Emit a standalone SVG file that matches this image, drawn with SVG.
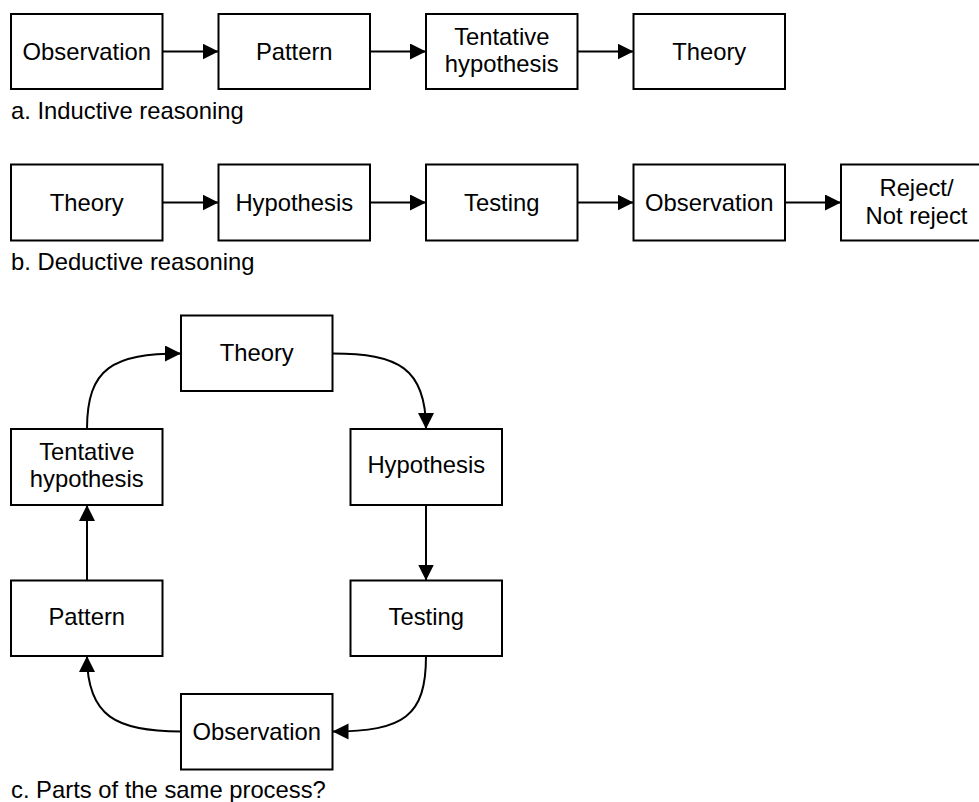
<svg xmlns="http://www.w3.org/2000/svg" width="979" height="802" viewBox="0 0 979 802">
<defs>
<marker id="ah" markerUnits="userSpaceOnUse" markerWidth="17" markerHeight="17" viewBox="0 0 17 17" refX="16" refY="8" orient="auto">
<path d="M0,0 L16,8 L0,16 Z" fill="#000"/>
</marker>
<style>
.box{fill:#fff;stroke:#000;stroke-width:2}
.t{font-family:"Liberation Sans",Arial,sans-serif;font-size:23.8px;fill:#000;text-anchor:middle}
.lbl{font-family:"Liberation Sans",Arial,sans-serif;font-size:23.8px;fill:#000}
.c{fill:none;stroke:#000;stroke-width:2;marker-end:url(#ah)}
</style>
</defs>
<rect width="979" height="802" fill="#fff"/>

<g id="connectors">
<path class="c" d="M162.5,51.5 H218.5"/>
<path class="c" d="M370,51.5 H426"/>
<path class="c" d="M577.5,51.5 H633.5"/>
<path class="c" d="M162.5,202.5 H218.5"/>
<path class="c" d="M370,202.5 H426"/>
<path class="c" d="M577.5,202.5 H633.5"/>
<path class="c" d="M785,202.5 H841"/>
<path class="c" d="M332.5,353.5 C398,353.5 426,368 426,429"/>
<path class="c" d="M426,505 V580.5"/>
<path class="c" d="M426,656 C426,716 404,731.5 332.5,731.5"/>
<path class="c" d="M181,731.5 C117,731.5 87,717 87,656"/>
<path class="c" d="M87,580.5 V505"/>
<path class="c" d="M87,429 C87,368 113,353.5 181,353.5"/>
</g>

<g id="a-observation"><rect class="box" x="11" y="14" width="151.5" height="75"/><text class="t" x="86.75" y="60">Observation</text></g>
<g id="a-pattern"><rect class="box" x="218.5" y="14" width="151.5" height="75"/><text class="t" x="294.25" y="60">Pattern</text></g>
<g id="a-tentative"><rect class="box" x="426" y="14" width="151.5" height="75"/><text class="t" x="501.75" y="45">Tentative</text><text class="t" x="501.75" y="72">hypothesis</text></g>
<g id="a-theory"><rect class="box" x="633.5" y="14" width="151.5" height="75"/><text class="t" x="709.25" y="60">Theory</text></g>
<text class="lbl" x="11" y="119">a. Inductive reasoning</text>

<g id="b-theory"><rect class="box" x="11" y="164.5" width="151.5" height="76"/><text class="t" x="86.75" y="210.5">Theory</text></g>
<g id="b-hypothesis"><rect class="box" x="218.5" y="164.5" width="151.5" height="76"/><text class="t" x="294.25" y="210.5">Hypothesis</text></g>
<g id="b-testing"><rect class="box" x="426" y="164.5" width="151.5" height="76"/><text class="t" x="501.75" y="210.5">Testing</text></g>
<g id="b-observation"><rect class="box" x="633.5" y="164.5" width="151.5" height="76"/><text class="t" x="709.25" y="210.5">Observation</text></g>
<g id="b-reject"><rect class="box" x="841" y="164.5" width="151.5" height="76"/><text class="t" x="916.5" y="196">Reject/</text><text class="t" x="916.5" y="223.5">Not reject</text></g>
<text class="lbl" x="11" y="269.5">b. Deductive reasoning</text>

<g id="c-theory"><rect class="box" x="181" y="315.5" width="151.5" height="75.5"/><text class="t" x="256.75" y="361">Theory</text></g>
<g id="c-tentative"><rect class="box" x="11" y="429" width="151.5" height="76"/><text class="t" x="86.75" y="459.5">Tentative</text><text class="t" x="86.75" y="487">hypothesis</text></g>
<g id="c-hypothesis"><rect class="box" x="350.5" y="429" width="151.5" height="76"/><text class="t" x="426.25" y="473">Hypothesis</text></g>
<g id="c-pattern"><rect class="box" x="11" y="580.5" width="151.5" height="75.5"/><text class="t" x="86.75" y="624.5">Pattern</text></g>
<g id="c-testing"><rect class="box" x="350.5" y="580.5" width="151.5" height="75.5"/><text class="t" x="426.25" y="624.5">Testing</text></g>
<g id="c-observation"><rect class="box" x="181" y="694" width="151.5" height="75.5"/><text class="t" x="256.75" y="739.5">Observation</text></g>
<text class="lbl" x="11" y="797.5">c. Parts of the same process?</text>
</svg>
